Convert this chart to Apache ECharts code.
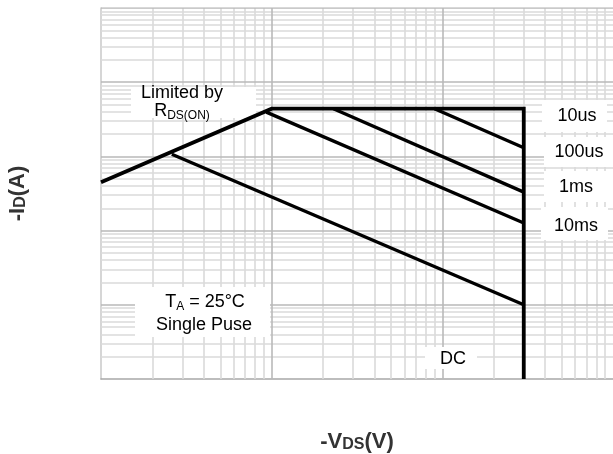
<!DOCTYPE html>
<html>
<head>
<meta charset="utf-8">
<script src="https://cdn.jsdelivr.net/npm/echarts@6/dist/echarts.min.js"></script>
<style>
html,body{margin:0;padding:0;background:#fff;}
#c{width:613px;height:454px;}
</style>
</head>
<body>
<div id="c"></div>
<script>
// Axis ranges (log scales)
const xRange = [0.1, 100];
const yRange = [0.01, 1000];

// Grid line positions (log decades)
const xMinorTicks = [0.2,0.3,0.4,0.5,0.6,0.7,0.8,0.9, 2,3,4,5,6,7,8,9, 20,30,40,50,60,70,80,90];
const xMajorTicks = [1, 10];
const yMinorTicks = [0.02,0.03,0.04,0.05,0.06,0.07,0.08,0.09, 0.2,0.3,0.4,0.5,0.6,0.7,0.8,0.9,
                     2,3,4,5,6,7,8,9, 20,30,40,50,60,70,80,90, 200,300,400,500,600,700,800,900];
const yMajorTicks = [0.1, 1, 10, 100, 1000];

// SOA boundary: R_DS(ON) limit, current limit, voltage limit (DC)
const boundary = [[0.1, 4.48], [1.0, 44], [30, 44], [30, 0.01]];
// Pulse-width limits
const pulse10us  = [[9.0, 44], [30, 13.1]];
const pulse100us = [[2.3, 44], [30, 3.3]];
const pulse1ms   = [[0.93, 39.5], [30, 1.27]];
const pulse10ms  = [[0.26, 10.7], [30, 0.1]];

const pulseNames = ['10us', '100us', '1ms', '10ms'];

function vLines(ticks){ return ticks.map(v => ({coords: [[v, yRange[0]], [v, yRange[1]]]})); }
function hLines(ticks){ return ticks.map(v => ({coords: [[xRange[0], v], [xRange[1], v]]})); }

const chart = echarts.init(document.getElementById('c'), null, {renderer: 'canvas'});
const FONT = 'Liberation Sans, Arial, sans-serif';

const titleRich = {
  a: {fontSize: 22, fontWeight: 'bold', fontFamily: FONT, color: '#333', verticalAlign: 'bottom', lineHeight: 24},
  b: {fontSize: 16, fontWeight: 'bold', fontFamily: FONT, color: '#333', verticalAlign: 'bottom', lineHeight: 24}
};

const lblRich = {
  n: {fontSize: 18, fontFamily: FONT, color: '#000', lineHeight: 18},
  s: {fontSize: 12, fontFamily: FONT, color: '#000', lineHeight: 18, padding: [9, 0, 0, 0]}
};

function box(x, y, w, h){
  return {type: 'rect', z: 3, shape: {x: x, y: y, width: w, height: h}, style: {fill: '#fff'}, silent: true};
}
function txt(x, y, text){
  return {type: 'text', z: 4, x: x, y: y, silent: true,
    style: {text: text, rich: lblRich, font: '18px ' + FONT, fill: '#000', align: 'center', verticalAlign: 'middle'}};
}

chart.setOption({
  animation: false,
  backgroundColor: '#fff',
  grid: {left: 101, right: 0, top: 8, bottom: 75, containLabel: false, outerBoundsMode: 'none'},
  xAxis: {
    type: 'log', logBase: 10, min: xRange[0], max: xRange[1],
    axisLabel: {show: false}, axisTick: {show: false}, splitLine: {show: false},
    axisLine: {lineStyle: {color: '#a8a8a8', width: 1.5}},
    name: '{a|-V}{b|DS}{a|(V)}', nameLocation: 'middle', nameGap: 50,
    nameTextStyle: {rich: titleRich}
  },
  yAxis: {
    type: 'log', logBase: 10, min: yRange[0], max: yRange[1],
    axisLabel: {show: false}, axisTick: {show: false}, splitLine: {show: false},
    axisLine: {lineStyle: {color: '#c8c8c8', width: 1.5}},
    name: '{a|-I}{b|D}{a|(A)}', nameLocation: 'middle', nameGap: 72,
    nameTextStyle: {rich: titleRich}
  },
  series: [
    {type: 'lines', coordinateSystem: 'cartesian2d', z: 1, silent: true,
     lineStyle: {color: '#dadada', width: 1.6, opacity: 1},
     data: vLines(xMinorTicks).concat(hLines(yMinorTicks))},
    {type: 'lines', coordinateSystem: 'cartesian2d', z: 1, silent: true,
     lineStyle: {color: '#b9b9b9', width: 1.6, opacity: 1},
     data: vLines(xMajorTicks).concat(hLines(yMajorTicks))},
    {type: 'line', name: 'boundary', data: boundary, z: 10, symbol: 'none', silent: true,
     lineStyle: {color: '#000', width: 3.8, join: 'miter'}},
    {type: 'line', name: pulseNames[0], data: pulse10us, z: 10, symbol: 'none', silent: true, lineStyle: {color: '#000', width: 3.3}},
    {type: 'line', name: pulseNames[1], data: pulse100us, z: 10, symbol: 'none', silent: true, lineStyle: {color: '#000', width: 3.3}},
    {type: 'line', name: pulseNames[2], data: pulse1ms, z: 10, symbol: 'none', silent: true, lineStyle: {color: '#000', width: 3.3}},
    {type: 'line', name: pulseNames[3], data: pulse10ms, z: 10, symbol: 'none', silent: true, lineStyle: {color: '#000', width: 3.3}}
  ],
  graphic: {
    elements: [
      box(131, 87, 125, 31),
      txt(182, 93, '{n|Limited by}'),
      txt(182, 111, '{n|R}{s|DS(ON)}'),
      box(542, 100, 65, 32),
      box(544, 137, 69, 30),
      box(544, 171, 69, 31),
      box(541, 207, 67, 33),
      txt(577, 116, '{n|' + pulseNames[0] + '}'),
      txt(579, 152, '{n|' + pulseNames[1] + '}'),
      txt(576, 187, '{n|' + pulseNames[2] + '}'),
      txt(576, 226, '{n|' + pulseNames[3] + '}'),
      box(135, 287, 135, 50),
      txt(205, 302, '{n|T}{s|A}{n| = 25°C}'),
      txt(204, 325, '{n|Single Puse}'),
      box(425, 347, 52, 22),
      txt(453, 359, '{n|DC}')
    ]
  }
});
</script>
</body>
</html>
